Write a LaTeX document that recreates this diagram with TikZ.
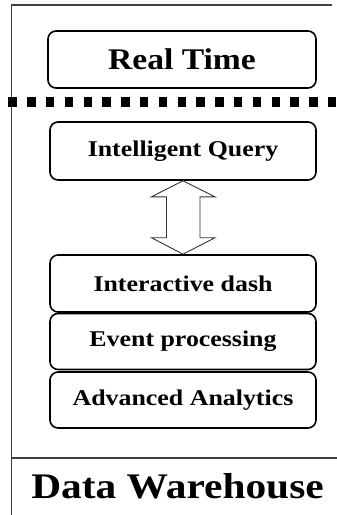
\documentclass[tikz,border=0pt]{standalone}
\usepackage{fontspec}
\setmainfont{Liberation Serif}
\usetikzlibrary{calc}
\tikzset{
  layerbox/.style={draw=black, line width=1.6pt, rounded corners=8pt, minimum width=266pt, inner sep=0pt, font=\bfseries},
  frameline/.style={draw=black!75, line width=1.1pt},
  dotsep/.style={line width=9.3pt, dash pattern=on 8.5pt off 10.3pt},
  dblarrow/.style={draw=black!80, line width=0.9pt, fill=white}
}
\newcommand{\boxtxt}[1]{\scalebox{1.15}[1]{\fontsize{22.5}{27}\selectfont\bfseries #1}}
\begin{document}
\begin{tikzpicture}[x=1pt,y=-1pt]
\useasboundingbox (0,0) rectangle (337,515);
% frame
\coordinate (ftl) at (11.5,5);
\coordinate (ftr) at (332,5);
\coordinate (fbl) at (11.5,515);
\coordinate (hl) at (11.5,458);
\coordinate (hr) at (337,458);
\draw[frameline] (ftr) -- (ftl) -- (fbl);
\draw[frameline] (hl) -- (hr);
% boxes
\node[layerbox, minimum width=268pt, minimum height=57pt] (rt) at (182,59.5) {\scalebox{1.12}[1]{\fontsize{30}{36}\selectfont\bfseries Real Time}};
\node[layerbox, minimum height=58pt] (iq) at (183,151) {\boxtxt{Intelligent Query}};
\node[layerbox, minimum height=57pt] (id) at (183,283.5) {\boxtxt{Interactive dash}};
\node[layerbox, minimum height=56pt] (ep) at (183,341.5) {\boxtxt{Event processing}};
\node[layerbox, minimum height=56pt] (aa) at (183,400) {\boxtxt{Advanced Analytics}};
% dotted separator
\coordinate (dl) at (8.3,102);
\coordinate (dr) at (337,102);
\draw[dotsep] (dl) -- (dr);
% double arrow
\draw[dblarrow] (iq.south) -- ($(iq.south)+(32,16)$) -- ($(iq.south)+(17,16)$)
  -- ($(id.north)+(17,-16.5)$) -- ($(id.north)+(32,-16.5)$) -- (id.north)
  -- ($(id.north)+(-31.5,-16.5)$) -- ($(id.north)+(-16.5,-16.5)$)
  -- ($(iq.south)+(-16.5,16)$) -- ($(iq.south)+(-31.5,16)$) -- cycle;
% title
\node[anchor=base, inner sep=0pt] (dw) at (177.5,498) {\scalebox{1.15}[1]{\fontsize{36}{43}\selectfont\bfseries Data Warehouse}};
\end{tikzpicture}
\end{document}
